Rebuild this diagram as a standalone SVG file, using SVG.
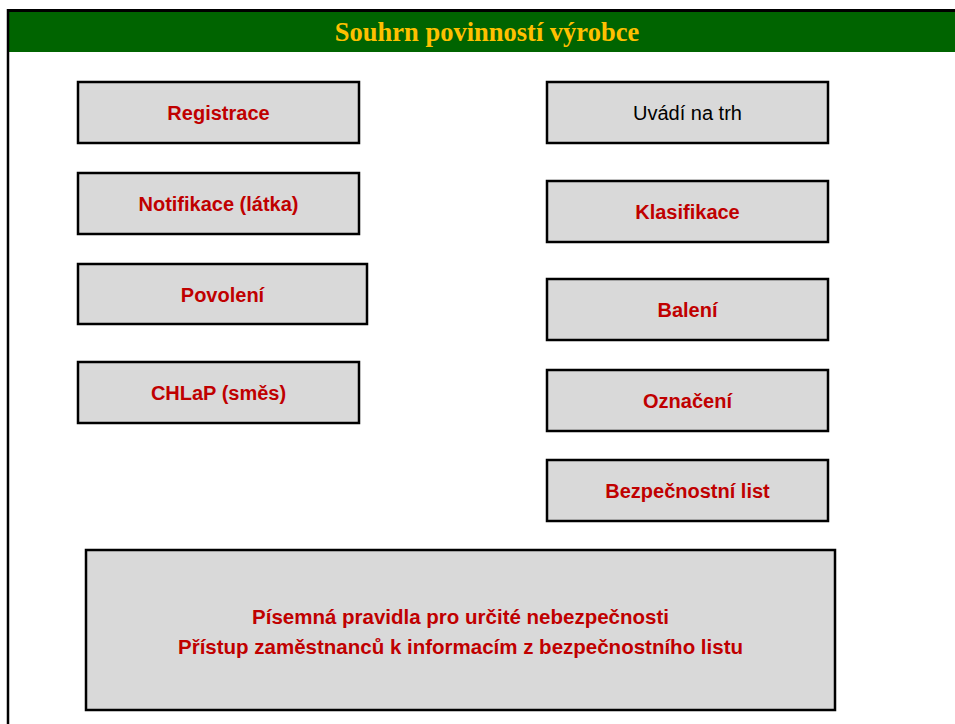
<svg xmlns="http://www.w3.org/2000/svg" width="955" height="724" viewBox="0 0 955 724">
<style>
.box{fill:#D9D9D9;stroke:#000;stroke-width:2.5}
.t{font-family:"Liberation Sans",Arial,sans-serif;font-weight:bold;font-size:20px;fill:#C00000;text-anchor:middle;dominant-baseline:central}
.b{font-size:20.5px}
.n{font-family:"Liberation Sans",Arial,sans-serif;font-size:20px;fill:#000;text-anchor:middle;dominant-baseline:central}
</style>
<rect width="955" height="724" fill="#fff"/>
<g id="frame">
<rect x="8" y="10.5" width="947" height="41.5" fill="#006400"/>
<line x1="7" y1="10.5" x2="955" y2="10.5" stroke="#000" stroke-width="3"/>
<line x1="8" y1="9" x2="8" y2="724" stroke="#000" stroke-width="2.5"/>
<text x="487" y="32" font-family="'Liberation Serif','Times New Roman',serif" font-weight="bold" font-size="26.5" fill="#FFC000" text-anchor="middle" dominant-baseline="central">Souhrn povinností výrobce</text>
</g>
<g id="registrace"><rect class="box" x="78" y="82" width="281" height="61"/><text class="t" x="218.5" y="113">Registrace</text></g>
<g id="notifikace"><rect class="box" x="78" y="173" width="281" height="61"/><text class="t" x="218.5" y="204">Notifikace (látka)</text></g>
<g id="povoleni"><rect class="box" x="78" y="264" width="289" height="60"/><text class="t" x="222.5" y="295">Povolení</text></g>
<g id="chlap"><rect class="box" x="78" y="362" width="281" height="61"/><text class="t" x="218.5" y="393">CHLaP (směs)</text></g>
<g id="uvadi"><rect class="box" x="547" y="82" width="281" height="61"/><text class="n" x="687.5" y="113">Uvádí na trh</text></g>
<g id="klasifikace"><rect class="box" x="547" y="181" width="281" height="61"/><text class="t" x="687.5" y="212">Klasifikace</text></g>
<g id="baleni"><rect class="box" x="547" y="279" width="281" height="61"/><text class="t" x="687.5" y="310">Balení</text></g>
<g id="oznaceni"><rect class="box" x="547" y="370" width="281" height="61"/><text class="t" x="687.5" y="401">Označení</text></g>
<g id="bezpecnostni"><rect class="box" x="547" y="460" width="281" height="61"/><text class="t" x="687.5" y="491">Bezpečnostní list</text></g>
<g id="pravidla"><rect class="box" x="86" y="550" width="749" height="160"/>
<text class="t b" x="460.5" y="616">Písemná pravidla pro určité nebezpečnosti</text>
<text class="t b" x="460.5" y="646">Přístup zaměstnanců k informacím z bezpečnostního listu</text></g>
<g id="connectors"></g>
</svg>
